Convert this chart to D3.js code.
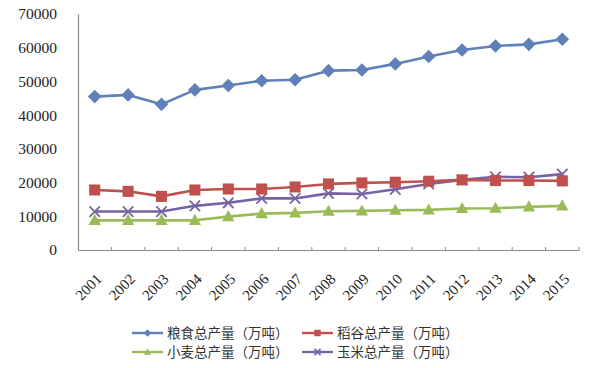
<!DOCTYPE html>
<html>
<head>
<meta charset="utf-8">
<script src="https://d3js.org/d3.v7.min.js"></script>
<style>
  body { margin: 0; background: #fff; }
</style>
</head>
<body>
<div id="chart-area"></div>
<script>
// data
var years = ['2001','2002','2003','2004','2005','2006','2007','2008','2009','2010','2011','2012','2013','2014','2015'];
var grain = [45500, 46000, 43200, 47500, 48800, 50200, 50500, 53200, 53400, 55200, 57400, 59300, 60500, 61000, 62500];
var rice  = [17800, 17400, 15900, 17800, 18100, 18100, 18700, 19600, 19900, 20100, 20400, 20800, 20600, 20600, 20500];
var wheat = [8800, 8800, 8800, 8800, 9900, 10800, 11000, 11500, 11600, 11800, 11900, 12300, 12400, 12800, 13100];
var corn  = [11400, 11400, 11400, 13100, 14000, 15300, 15300, 16800, 16600, 18000, 19600, 20800, 21700, 21600, 22500];
var seriesNames = ['粮食总产量（万吨）', '稻谷总产量（万吨）', '小麦总产量（万吨）', '玉米总产量（万吨）'];
var yTicks = [0, 10000, 20000, 30000, 40000, 50000, 60000, 70000];

var colors = ['#5f80b9', '#c0504d', '#9bbb59', '#7763a2'];
var shapes = ['diamond', 'square', 'triangle', 'cross'];
var series = [grain, rice, wheat, corn].map(function(v, i){
  return {name: seriesNames[i], values: v, color: colors[i], shape: shapes[i]};
});

var W = 597, H = 368;
var margin = {top: 14, left: 78, right: 18, bottom: 118};
var width = W - margin.left - margin.right;
var height = H - margin.top - margin.bottom;

var svg = d3.select('#chart-area')
  .append('svg')
    .attr('width', W)
    .attr('height', H);
var g = svg.append('g')
  .attr('transform', 'translate(' + margin.left + ',' + margin.top + ')');

var x = d3.scaleBand().domain(years).range([0, width]);
var y = d3.scaleLinear().domain([0, 70000]).range([height, 0]);

var serif = '"Liberation Serif", "DejaVu Serif", serif';

// Y axis
var yAxis = g.append('g')
  .call(d3.axisLeft(y).tickValues(yTicks).tickSize(0).tickPadding(21).tickFormat(d3.format('d')));
yAxis.select('.domain').attr('stroke', '#8c8c8c').attr('stroke-width', 1.2);
yAxis.selectAll('text')
  .attr('font-family', serif)
  .attr('font-size', '15.5px')
  .attr('fill', '#222');

// X axis
var xAxis = g.append('g')
  .attr('transform', 'translate(0,' + height + ')')
  .call(d3.axisBottom(x).tickSize(0).tickFormat(''));
xAxis.select('.domain').attr('stroke', '#8c8c8c').attr('stroke-width', 1.2);
// small ticks between categories, pointing up
xAxis.selectAll('.cat-tick')
  .data(years)
  .enter().append('line')
    .attr('x1', function(d){ return x(d) + x.bandwidth(); })
    .attr('x2', function(d){ return x(d) + x.bandwidth(); })
    .attr('y1', 0)
    .attr('y2', -3)
    .attr('stroke', '#8c8c8c');
xAxis.selectAll('.year-label')
  .data(years)
  .enter().append('text')
    .attr('class', 'year-label')
    .attr('text-anchor', 'end')
    .attr('font-family', serif)
    .attr('font-size', '15px')
    .attr('fill', '#222')
    .attr('transform', function(d){
      return 'translate(' + (x(d) + x.bandwidth() / 2 + 8) + ',30) rotate(-45)';
    })
    .text(function(d){ return d; });

// marker paths
function markerPath(shape, s){
  if (shape === 'diamond') return 'M0,' + (-s) + 'L' + s + ',0L0,' + s + 'L' + (-s) + ',0Z';
  if (shape === 'square') return 'M' + (-s*0.85) + ',' + (-s*0.85) + 'h' + (s*1.7) + 'v' + (s*1.7) + 'h' + (-s*1.7) + 'Z';
  if (shape === 'triangle') return 'M0,' + (-s) + 'L' + (s*0.95) + ',' + (s*0.7) + 'L' + (-s*0.95) + ',' + (s*0.7) + 'Z';
  return 'M' + (-s*0.8) + ',' + (-s*0.8) + 'L' + (s*0.8) + ',' + (s*0.8) + 'M' + (s*0.8) + ',' + (-s*0.8) + 'L' + (-s*0.8) + ',' + (s*0.8);
}
function styleMarker(sel, d){
  if (d.shape === 'cross') {
    sel.attr('fill', 'none').attr('stroke', d.color).attr('stroke-width', 1.8);
  } else {
    sel.attr('fill', d.color).attr('stroke', 'none');
  }
}

var line = d3.line()
  .x(function(d, i){ return x(years[i]) + x.bandwidth() / 2; })
  .y(function(d){ return y(d); });

// draw series, last series at the bottom
var drawOrder = [3, 2, 1, 0];
drawOrder.forEach(function(k){
  var s = series[k];
  var sg = g.append('g');
  sg.append('path')
    .attr('d', line(s.values))
    .attr('fill', 'none')
    .attr('stroke', s.color)
    .attr('stroke-width', 2.6)
    .attr('stroke-linejoin', 'round');
  s.values.forEach(function(v, i){
    var m = sg.append('path')
      .attr('transform', 'translate(' + (x(years[i]) + x.bandwidth() / 2) + ',' + y(v) + ')')
      .attr('d', markerPath(s.shape, s.shape === 'diamond' ? 6.8 : 6.5));
    styleMarker(m, s);
  });
});

// Legend
var legendPos = [[132, 333], [302, 333], [132, 352], [302, 352]];
series.forEach(function(s, i){
  var row = svg.append('g')
    .attr('transform', 'translate(' + legendPos[i][0] + ',' + legendPos[i][1] + ')');
  row.append('line')
    .attr('x1', 0).attr('x2', 31)
    .attr('stroke', s.color)
    .attr('stroke-width', 2.4);
  var m = row.append('path')
    .attr('transform', 'translate(15.5,0)')
    .attr('d', markerPath(s.shape, 3.8));
  styleMarker(m, s);
  row.append('text')
    .attr('x', 35)
    .attr('y', 5)
    .attr('font-family', '"Noto Sans CJK SC", sans-serif')
    .attr('font-size', '13.5px')
    .attr('fill', '#333')
    .text(s.name);
});
</script>
</body>
</html>
